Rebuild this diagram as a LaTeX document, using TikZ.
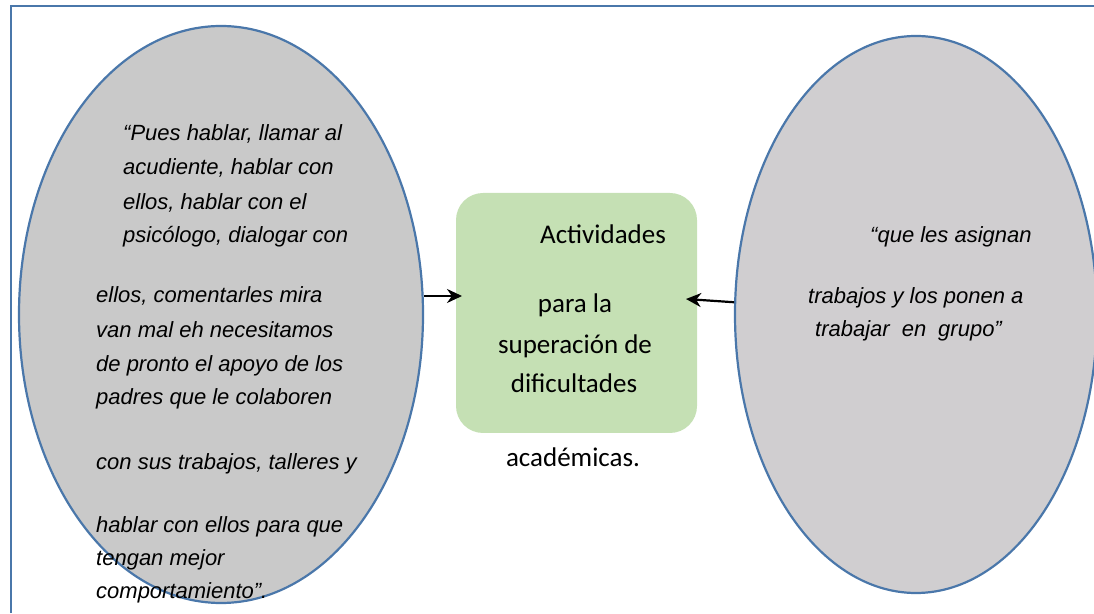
\documentclass[tikz,border=0pt]{standalone}
\usepackage{fontspec}
\setmainfont{Liberation Sans}
\newfontfamily\boxfont{Carlito}
\usetikzlibrary{shapes.geometric,arrows.meta}
\definecolor{outl}{RGB}{74,119,170}
\definecolor{leftgray}{RGB}{201,201,201}
\definecolor{rightgray}{RGB}{208,206,208}
\definecolor{boxgreen}{RGB}{197,224,180}
\tikzset{
  quote/.style={ellipse, draw=outl, line width=2.2pt, inner sep=0pt},
  qline/.style={anchor=base west, inner sep=0pt, font=\fontsize{22}{26}\selectfont\itshape},
  bline/.style={anchor=base, inner sep=0pt, font=\boxfont\fontsize{27}{32}\selectfont},
  conn/.style={line width=2.2pt, -{Stealth[length=15pt,width=14pt]}}
}

\begin{document}
\begin{tikzpicture}[x=1pt,y=1pt]
    \useasboundingbox (0,0) rectangle (1094,613);
    %% frame
    \draw[outl, line width=2pt] (11,0) -- (11,607) -- (1094,607);
    %% left quote
    \node[quote, fill=leftgray, minimum width=404pt, minimum height=577pt] (lq) at (221,298.5) {};
    \foreach \x/\y/\t [count=\i] in {
        123/141/{“Pues hablar, llamar al},
        123/175/{acudiente, hablar con},
        123/210/{ellos, hablar con el},
        123/243/{psicólogo, dialogar con},
        96/303/{ellos, comentarles mira},
        96/338/{van mal eh necesitamos},
        96/372/{de pronto el apoyo de los},
        96/405/{padres que le colaboren},
        96/470/{con sus trabajos, talleres y},
        96/532/{hablar con ellos para que},
        96/565/{tengan mejor},
        96/598/{comportamiento”.}}
        \node[qline] (lt\i) at (\x,613-\y) {\t};
    %% right quote, cut by the page edge
    \begin{scope}
        \clip (0,0) rectangle (1094,613);
        \node[quote, fill=rightgray, minimum width=362pt, minimum height=557pt] (rq) at (916,298.5) {};
    \end{scope}
    \foreach \x/\y/\t [count=\i] in {
        870/243/{“que les asignan},
        808/304/{trabajos y los ponen a},
        815/337/{trabajar\hspace{12pt}en\hspace{12pt}grupo”}}
        \node[qline] (rt\i) at (\x,613-\y) {\t};
    %% central box
    \node[fill=boxgreen, rounded corners=27pt, minimum width=241pt, minimum height=240pt] (box) at (576.5,300) {};
    \node[bline] (b1) at (603,613-244) {Actividades};
    \node[bline] (b2) at (575,613-313) {para la};
    \node[bline] (b3) at (575,613-354) {superación de};
    \node[bline] (b4) at (574,613-393) {dificultades};
    \node[bline] (b5) at (573,613-467) {académicas.};
    %% arrows
    \coordinate (tipL) at (462,317);
    \coordinate (tipR) at (686,314);
    \draw[conn] (lq.east |- tipL) -- (tipL);
    \draw[conn] (rq) -- (tipR);
\end{tikzpicture}
\end{document}
